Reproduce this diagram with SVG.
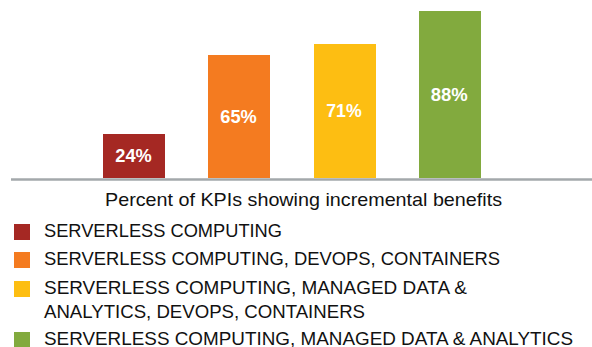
<svg xmlns="http://www.w3.org/2000/svg" width="592" height="347" viewBox="0 0 592 347">
<style>
.lbl{font-family:"Liberation Sans",Arial,sans-serif;font-weight:bold;font-size:18.5px;fill:#ffffff;text-anchor:middle}
.t{font-family:"Liberation Sans",Arial,sans-serif;font-size:17.5px;fill:#111111}
.ttl{font-family:"Liberation Sans",Arial,sans-serif;font-size:18.5px;fill:#111111}
</style>
<rect width="592" height="347" fill="#ffffff"/>
<g id="bar-24">
<rect x="103" y="134" width="62" height="44" fill="#a52823"/>
<text class="lbl" x="133.5" y="161.7" textLength="36.5" lengthAdjust="spacingAndGlyphs">24%</text>
</g>
<g id="bar-65">
<rect x="208" y="55" width="62" height="123" fill="#f47b20"/>
<text class="lbl" x="238.5" y="123.3" textLength="36.5" lengthAdjust="spacingAndGlyphs">65%</text>
</g>
<g id="bar-71">
<rect x="314" y="44" width="62" height="134" fill="#fdbe12"/>
<text class="lbl" x="344" y="117.3" textLength="35.5" lengthAdjust="spacingAndGlyphs">71%</text>
</g>
<g id="bar-88">
<rect x="419" y="11" width="62" height="167" fill="#82aa3e"/>
<text class="lbl" x="449.2" y="101" textLength="37" lengthAdjust="spacingAndGlyphs">88%</text>
</g>
<g id="axis">
<line x1="11" y1="179.5" x2="592" y2="179.5" stroke="#a3a8ab" stroke-width="2.5"/>
</g>
<text class="ttl" x="105" y="205.5" textLength="397" lengthAdjust="spacingAndGlyphs">Percent of KPIs showing incremental benefits</text>
<g id="legend">
<rect x="14" y="224" width="16" height="16" fill="#a52823"/>
<text class="t" x="44" y="236.7" textLength="238" lengthAdjust="spacingAndGlyphs">SERVERLESS COMPUTING</text>
<rect x="14" y="252" width="16" height="16" fill="#f47b20"/>
<text class="t" x="44" y="265" textLength="456" lengthAdjust="spacingAndGlyphs">SERVERLESS COMPUTING, DEVOPS, CONTAINERS</text>
<rect x="14" y="281" width="16" height="16" fill="#fdbe12"/>
<text class="t" x="44" y="294" textLength="423" lengthAdjust="spacingAndGlyphs">SERVERLESS COMPUTING, MANAGED DATA &amp;</text>
<text class="t" x="44" y="318" textLength="321" lengthAdjust="spacingAndGlyphs">ANALYTICS, DEVOPS, CONTAINERS</text>
<rect x="14" y="332" width="16" height="16" fill="#82aa3e"/>
<text class="t" x="44" y="344.5" textLength="529" lengthAdjust="spacingAndGlyphs">SERVERLESS COMPUTING, MANAGED DATA &amp; ANALYTICS</text>
</g>
</svg>
